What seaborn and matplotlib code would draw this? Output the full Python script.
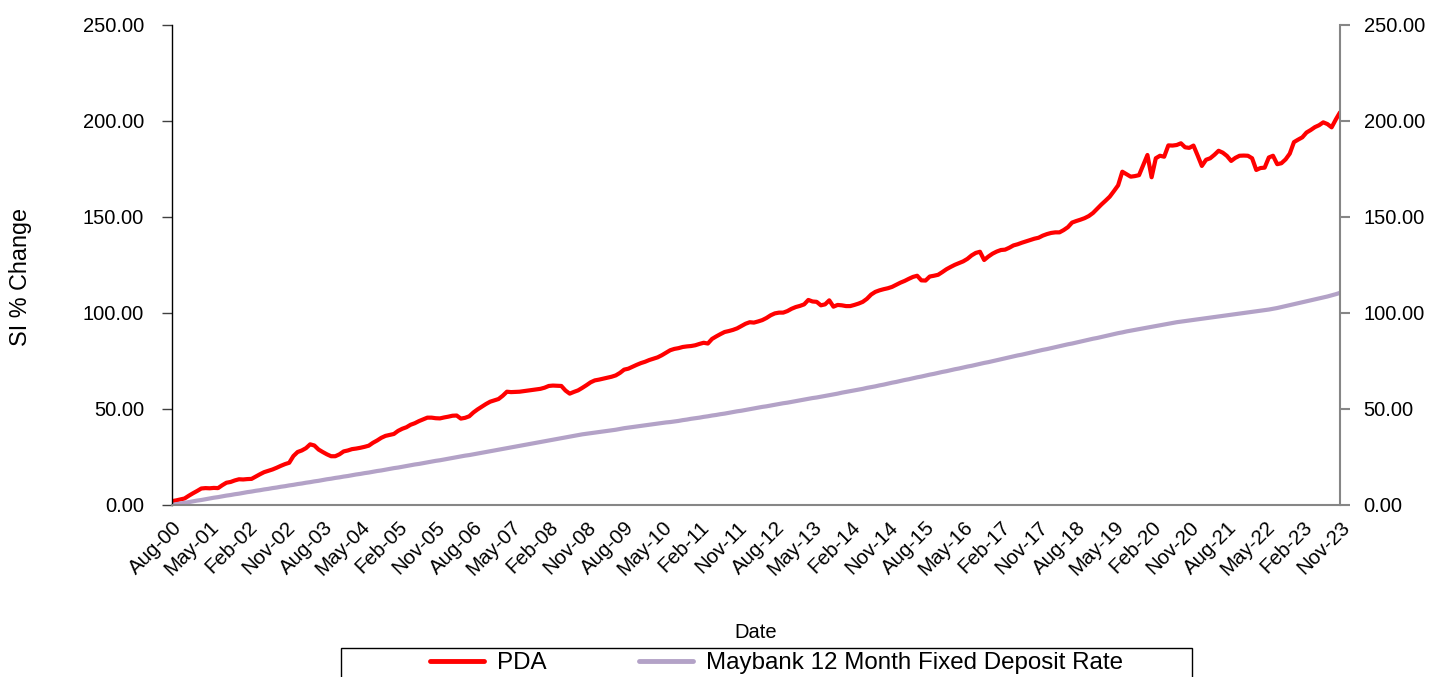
import numpy as np
import pandas as pd
import seaborn as sns
import matplotlib.pyplot as plt
from matplotlib.patches import Rectangle
from matplotlib.lines import Line2D
from matplotlib.ticker import FormatStrFormatter

# monthly "since inception" % change, Aug-00 .. Nov-23 (one row per year, starting each August)
pda = [
    2.0, 2.4, 2.9, 3.4, 4.8, 6.1, 7.3, 8.6, 8.8, 8.7, 8.9, 8.8,
    10.3, 11.6, 12.0, 12.8, 13.4, 13.3, 13.5, 13.6, 14.8, 16.0, 17.1, 17.8,
    18.5, 19.4, 20.4, 21.3, 22.0, 25.5, 27.6, 28.4, 29.6, 31.6, 31.0, 28.9,
    27.6, 26.4, 25.4, 25.4, 26.4, 27.9, 28.4, 29.1, 29.4, 29.8, 30.3, 30.9,
    32.4, 33.6, 35.0, 36.0, 36.5, 37.0, 38.6, 39.7, 40.5, 41.8, 42.6, 43.7,
    44.6, 45.5, 45.5, 45.2, 45.1, 45.6, 46.0, 46.5, 46.6, 45.0, 45.4, 46.2,
    48.2, 49.8, 51.2, 52.6, 53.8, 54.5, 55.2, 56.9, 59.0, 58.8, 58.9, 59.0,
    59.3, 59.6, 59.9, 60.2, 60.5, 61.1, 62.0, 62.2, 62.1, 62.0, 59.6, 58.0,
    58.9, 59.7, 61.0, 62.4, 63.9, 64.9, 65.3, 65.8, 66.3, 66.8, 67.5, 68.8,
    70.5, 71.0, 72.0, 73.0, 73.9, 74.6, 75.5, 76.2, 76.9, 78.0, 79.3, 80.6,
    81.3, 81.7, 82.3, 82.6, 82.8, 83.2, 83.9, 84.5, 84.1, 86.5, 87.8, 89.0,
    90.1, 90.6, 91.2, 92.0, 93.2, 94.4, 95.2, 95.0, 95.6, 96.3, 97.4, 98.8,
    99.8, 100.2, 100.2, 101.0, 102.2, 103.1, 103.7, 104.5, 106.8, 106.0, 105.8, 104.0,
    104.5, 106.6, 103.3, 104.2, 104.0, 103.6, 103.6, 104.2, 104.9, 105.8, 107.4, 109.6,
    111.0, 111.8, 112.4, 112.9, 113.6, 114.7, 115.8, 116.7, 117.8, 118.8, 119.4, 117.0,
    116.9, 119.0, 119.4, 119.9, 121.3, 122.8, 124.0, 125.1, 126.0, 126.9, 128.2, 130.0,
    131.3, 131.9, 127.6, 129.4, 130.9, 132.0, 132.8, 133.0, 134.0, 135.2, 135.8, 136.6,
    137.3, 138.0, 138.7, 139.2, 140.3, 141.1, 141.7, 142.0, 142.0, 143.2, 144.7, 147.1,
    147.9, 148.6, 149.4, 150.5, 152.1, 154.3, 156.5, 158.5, 160.6, 163.5, 166.5, 173.6,
    172.3, 171.0, 171.3, 171.8, 177.0, 182.3, 170.7, 180.6, 181.9, 181.4, 187.3, 187.2,
    187.5, 188.4, 186.3, 186.0, 187.2, 182.0, 176.6, 179.8, 180.6, 182.4, 184.5, 183.5,
    181.8, 179.2, 180.8, 181.9, 182.0, 181.9, 180.6, 174.5, 175.5, 175.7, 181.0, 181.9,
    177.5, 178.0, 180.0, 183.0, 189.0, 190.3, 191.5, 194.0, 195.3, 196.8, 197.8, 199.3,
    198.4, 196.7, 200.8, 204.5,
]

maybank = [
    0.0, 0.4, 0.8, 1.1, 1.5, 1.9, 2.3, 2.6, 3.0, 3.4, 3.8, 4.1,
    4.5, 4.9, 5.2, 5.6, 5.9, 6.3, 6.7, 7.0, 7.4, 7.7, 8.1, 8.4,
    8.8, 9.1, 9.5, 9.8, 10.2, 10.5, 10.9, 11.2, 11.6, 11.9, 12.3, 12.6,
    13.0, 13.4, 13.7, 14.1, 14.4, 14.8, 15.1, 15.5, 15.9, 16.2, 16.6, 16.9,
    17.3, 17.7, 18.0, 18.4, 18.8, 19.2, 19.5, 19.9, 20.3, 20.7, 21.1, 21.4,
    21.8, 22.2, 22.6, 23.0, 23.3, 23.7, 24.1, 24.5, 24.9, 25.3, 25.7, 26.0,
    26.4, 26.8, 27.2, 27.6, 28.0, 28.4, 28.8, 29.2, 29.6, 30.0, 30.4, 30.8,
    31.2, 31.6, 32.0, 32.4, 32.8, 33.2, 33.6, 34.0, 34.4, 34.8, 35.2, 35.6,
    36.0, 36.4, 36.8, 37.1, 37.4, 37.7, 38.0, 38.3, 38.6, 38.9, 39.2, 39.6,
    40.0, 40.3, 40.6, 40.9, 41.2, 41.5, 41.8, 42.1, 42.4, 42.7, 43.0, 43.2,
    43.5, 43.8, 44.2, 44.5, 44.9, 45.2, 45.5, 45.9, 46.2, 46.6, 46.9, 47.3,
    47.6, 48.0, 48.4, 48.8, 49.1, 49.5, 49.9, 50.3, 50.7, 51.1, 51.4, 51.8,
    52.2, 52.6, 53.0, 53.3, 53.7, 54.1, 54.5, 54.9, 55.3, 55.7, 56.0, 56.4,
    56.8, 57.2, 57.6, 58.0, 58.5, 58.9, 59.3, 59.7, 60.1, 60.5, 61.0, 61.4,
    61.8, 62.3, 62.7, 63.2, 63.7, 64.1, 64.6, 65.1, 65.5, 66.0, 66.5, 66.9,
    67.4, 67.9, 68.3, 68.8, 69.3, 69.7, 70.2, 70.7, 71.1, 71.6, 72.1, 72.5,
    73.0, 73.5, 74.0, 74.4, 74.9, 75.4, 75.9, 76.4, 76.9, 77.4, 77.9, 78.3,
    78.8, 79.3, 79.8, 80.3, 80.8, 81.2, 81.7, 82.2, 82.7, 83.2, 83.7, 84.1,
    84.6, 85.1, 85.6, 86.1, 86.6, 87.0, 87.5, 88.0, 88.5, 89.0, 89.5, 89.9,
    90.4, 90.8, 91.2, 91.6, 92.0, 92.4, 92.8, 93.2, 93.6, 94.0, 94.4, 94.8,
    95.2, 95.5, 95.8, 96.1, 96.4, 96.7, 97.0, 97.3, 97.6, 97.9, 98.2, 98.5,
    98.8, 99.1, 99.4, 99.7, 100.0, 100.3, 100.6, 100.9, 101.2, 101.5, 101.8, 102.2,
    102.6, 103.1, 103.6, 104.1, 104.6, 105.1, 105.6, 106.1, 106.6, 107.1, 107.6, 108.1,
    108.6, 109.2, 109.8, 110.5,
]

series_names = ['PDA', 'Maybank 12 Month Fixed Deposit Rate']
series_colors = ['#FF0000', '#B3A2C7']

dates = pd.date_range('2000-08-01', periods=len(pda), freq='MS')
tick_step = 9

df = pd.DataFrame({
    'month': np.tile(np.arange(len(dates)), 2),
    'value': pda + maybank,
    'series': [series_names[0]] * len(pda) + [series_names[1]] * len(maybank),
})

sns.set_style('white')
plt.rcParams['font.family'] = ['Liberation Sans', 'DejaVu Sans']
plt.rcParams.update({'text.color': 'black', 'axes.labelcolor': 'black',
                     'xtick.color': 'black', 'ytick.color': 'black'})

fig = plt.figure(figsize=(14.31, 6.77), dpi=100)
ax = fig.add_axes([172 / 1431, 1 - 505 / 677, (1340 - 172) / 1431, 480 / 677])

sns.lineplot(data=df, x='month', y='value', hue='series', hue_order=series_names,
             palette=series_colors, linewidth=3.0, ax=ax, legend=False)

yticks = np.arange(0, 251, 50)
ax.set_xlim(0, len(dates) - 1)
ax.set_ylim(0, 250)
ax.set_yticks(yticks)
ax.yaxis.set_major_formatter(FormatStrFormatter('%.2f'))

tick_pos = np.arange(0, len(dates), tick_step)
ax.set_xticks(tick_pos)
ax.set_xticklabels([dates[i].strftime('%b-%y') for i in tick_pos], rotation=45,
                   ha='right', rotation_mode='anchor', fontsize=14.8)
ax.tick_params(axis='x', length=0, pad=9, labelcolor='black')
ax.tick_params(axis='y', direction='out', length=7, width=1, color='#404040',
               labelsize=14.5, pad=13, left=True, labelcolor='black')

for side in ['top', 'right']:
    ax.spines[side].set_visible(False)
ax.spines['left'].set_color('black')
ax.spines['left'].set_linewidth(1.0)
ax.spines['bottom'].set_color('#868686')
ax.spines['bottom'].set_linewidth(1.5)

ax.set_xlabel('Date', fontsize=14.5, color='black')
ax.xaxis.set_label_coords(0.5, -0.245)
ax.set_ylabel('SI % Change', fontsize=16.8, color='black')
ax.yaxis.set_label_coords(-0.12, 0.475)

# secondary axis on the right, same scale
ax2 = ax.twinx()
ax2.set_ylim(0, 250)
ax2.set_yticks(yticks)
ax2.yaxis.set_major_formatter(FormatStrFormatter('%.2f'))
ax2.tick_params(axis='y', direction='out', length=7, width=1.5, color='#868686',
                labelsize=14.5, pad=10, right=True, labelcolor='black')
for side in ['top', 'left', 'bottom']:
    ax2.spines[side].set_visible(False)
ax2.spines['right'].set_color('#868686')
ax2.spines['right'].set_linewidth(1.5)

# legend box sits at the bottom, partly cut off by the canvas edge
handles = [Line2D([], [], color=c, linewidth=3.5) for c in series_colors]
fig.legend(handles, series_names, loc='center', ncol=2, frameon=False,
           bbox_to_anchor=(776.5 / 1431, 1 - 663 / 677), fontsize=17.4,
           handlelength=2.23, handletextpad=0.54, columnspacing=3.84)
fig.patches.append(Rectangle((341 / 1431, -0.05), (1192 - 341) / 1431, 0.05 + 29 / 677,
                             transform=fig.transFigure, fill=False,
                             edgecolor='black', linewidth=1.0))

fig.savefig('out.png', dpi=100)
